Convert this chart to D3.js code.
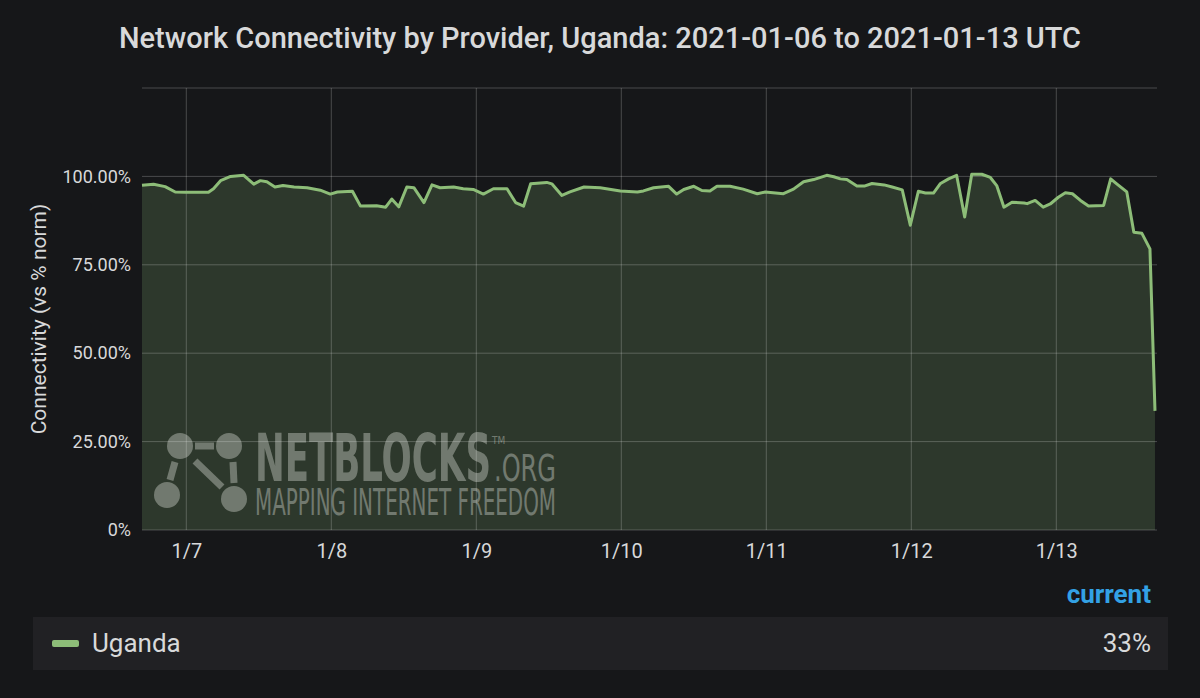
<!DOCTYPE html>
<html>
<head>
<meta charset="utf-8">
<script src="https://cdn.jsdelivr.net/npm/d3@7"></script>
<style>
  html, body { margin: 0; padding: 0; background: #161719; }
  svg { display: block; font-family: Roboto, "Noto Sans", sans-serif; }
</style>
</head>
<body>
<div id="chart"></div>
<script>
const W = 1200, H = 698;
const MARGIN = { LEFT: 142, RIGHT: 43, TOP: 88, BOTTOM: 168 };

const title = "Network Connectivity by Provider, Uganda: 2021-01-06 to 2021-01-13 UTC";
const seriesName = "Uganda";
const currentLabel = "33%";
const domainStart = "2021-01-06T16:40:00Z";
const domainEnd = "2021-01-13T16:40:00Z";
const yTicks = [0, 25, 50, 75, 100];
const yTickLabels = ["0%", "25.00%", "50.00%", "75.00%", "100.00%"];
const yGridTicks = [0, 25, 50, 75, 100, 125];

// readings (UTC)
const times = [
  "2021-01-06T16:40", "2021-01-06T18:35", "2021-01-06T20:30", "2021-01-06T22:10", "2021-01-06T23:50",
  "2021-01-07T03:40", "2021-01-07T04:30", "2021-01-07T05:40", "2021-01-07T07:20", "2021-01-07T09:30",
  "2021-01-07T11:10", "2021-01-07T12:15", "2021-01-07T13:20", "2021-01-07T14:40", "2021-01-07T16:00",
  "2021-01-07T17:50", "2021-01-07T20:00", "2021-01-07T22:10", "2021-01-07T23:50", "2021-01-08T01:00",
  "2021-01-08T03:30", "2021-01-08T04:50", "2021-01-08T07:30", "2021-01-08T09:00", "2021-01-08T10:00",
  "2021-01-08T11:10", "2021-01-08T12:30", "2021-01-08T13:40", "2021-01-08T15:20", "2021-01-08T16:40",
  "2021-01-08T18:00", "2021-01-08T20:15", "2021-01-08T21:50", "2021-01-08T23:30", "2021-01-09T01:10",
  "2021-01-09T02:50", "2021-01-09T05:05", "2021-01-09T06:30", "2021-01-09T07:50", "2021-01-09T09:00",
  "2021-01-09T11:40", "2021-01-09T12:30", "2021-01-09T14:10", "2021-01-09T15:30", "2021-01-09T17:50",
  "2021-01-09T20:30", "2021-01-09T23:50", "2021-01-10T02:40", "2021-01-10T03:40", "2021-01-10T05:20",
  "2021-01-10T07:50", "2021-01-10T09:10", "2021-01-10T10:20", "2021-01-10T12:00", "2021-01-10T13:20",
  "2021-01-10T14:40", "2021-01-10T15:50", "2021-01-10T18:00", "2021-01-10T20:10", "2021-01-10T22:30",
  "2021-01-10T23:50", "2021-01-11T02:50", "2021-01-11T04:30", "2021-01-11T06:10", "2021-01-11T07:50",
  "2021-01-11T10:00", "2021-01-11T11:10", "2021-01-11T12:15", "2021-01-11T13:20", "2021-01-11T15:00",
  "2021-01-11T16:20", "2021-01-11T17:30", "2021-01-11T19:30", "2021-01-11T20:50", "2021-01-11T22:30",
  "2021-01-11T23:50", "2021-01-12T01:10", "2021-01-12T02:20", "2021-01-12T03:40", "2021-01-12T04:50",
  "2021-01-12T06:10", "2021-01-12T07:30", "2021-01-12T08:50", "2021-01-12T10:00", "2021-01-12T11:40",
  "2021-01-12T13:05", "2021-01-12T14:10", "2021-01-12T15:20", "2021-01-12T16:40", "2021-01-12T18:40",
  "2021-01-12T19:10", "2021-01-12T20:30", "2021-01-12T21:50", "2021-01-12T23:00", "2021-01-13T00:20",
  "2021-01-13T01:30", "2021-01-13T02:40", "2021-01-13T04:00", "2021-01-13T05:20", "2021-01-13T07:50",
  "2021-01-13T09:00", "2021-01-13T10:00", "2021-01-13T11:40", "2021-01-13T12:50", "2021-01-13T14:10",
  "2021-01-13T15:30", "2021-01-13T16:20"
];
const values = [
  97.5, 97.8, 97.1, 95.6, 95.5,
  95.5, 96.5, 98.8, 100.0, 100.3,
  97.8, 98.8, 98.5, 97.0, 97.4,
  97.0, 96.8, 96.1, 95.0, 95.6,
  95.8, 91.6, 91.7, 91.3, 93.6,
  91.4, 97.0, 96.8, 92.6, 97.6,
  96.8, 97.0, 96.5, 96.3, 95.0,
  96.5, 96.5, 92.6, 91.6, 97.9,
  98.3, 97.9, 94.6, 95.6, 97.0,
  96.8, 95.9, 95.6, 95.9, 96.8,
  97.2, 95.0, 96.3, 97.2, 96.0,
  95.9, 97.2, 97.2, 96.4, 95.1,
  95.6, 95.1, 96.4, 98.5, 99.1,
  100.3, 99.9, 99.3, 99.1, 97.3,
  97.3, 98.0, 97.6, 97.0, 96.2,
  86.2, 95.8, 95.3, 95.3, 98.0,
  99.3, 100.3, 88.5, 100.6, 100.6,
  99.7, 97.3, 91.3, 92.7, 92.5,
  92.3, 93.2, 91.3, 92.2, 94.1,
  95.4, 95.1, 93.2, 91.6, 91.8,
  99.3, 97.9, 95.6, 84.2, 83.9,
  79.5, 33.7
];

const LINE_COLOR = "#8dbd78";
const TEXT_COLOR = "#d8d9da";
const NARROW = "'Liberation Sans Narrow', 'DejaVu Sans Condensed', sans-serif";

const data = times.map((t, i) => ({ t: new Date(t + ":00Z"), v: values[i] }));

const svg = d3.select("#chart").append("svg")
    .attr("width", W)
    .attr("height", H);

svg.append("rect").attr("width", W).attr("height", H).attr("fill", "#161719");

const x = d3.scaleUtc()
    .domain([new Date(domainStart), new Date(domainEnd)])
    .range([MARGIN.LEFT, W - MARGIN.RIGHT]);

const y = d3.scaleLinear()
    .domain([0, 125])
    .range([H - MARGIN.BOTTOM, MARGIN.TOP]);

// title
svg.append("text")
    .attr("x", 600)
    .attr("y", 48)
    .attr("text-anchor", "middle")
    .attr("font-size", "29px")
    .attr("font-weight", 500)
    .attr("fill", TEXT_COLOR)
    .text(title);

// area + watermark sit under the grid
const area = d3.area()
    .x(d => x(d.t))
    .y0(y(0))
    .y1(d => y(d.v));

svg.append("path")
    .datum(data)
    .attr("d", area)
    .attr("fill", LINE_COLOR)
    .attr("fill-opacity", 0.2);

// watermark
const wm = svg.append("g").attr("opacity", 0.42).attr("fill", "#d0d4cc").attr("stroke", "#d0d4cc");
const nodes = [[180, 446], [229, 446], [167, 495], [234, 499]];
wm.append("line").attr("x1", 195).attr("y1", 446).attr("x2", 214).attr("y2", 446).attr("stroke-width", 7);
wm.append("line").attr("x1", 175).attr("y1", 462).attr("x2", 170).attr("y2", 480).attr("stroke-width", 7);
wm.append("line").attr("x1", 195).attr("y1", 461).attr("x2", 222).attr("y2", 487).attr("stroke-width", 7);
wm.append("line").attr("x1", 233).attr("y1", 462).attr("x2", 234).attr("y2", 483).attr("stroke-width", 7);
wm.selectAll("circle").data(nodes).enter().append("circle")
    .attr("cx", d => d[0]).attr("cy", d => d[1]).attr("r", 13).attr("stroke", "none");

const wmText = wm.append("text")
    .attr("stroke", "none")
    .attr("font-family", NARROW);
wmText.append("tspan")
    .attr("x", 255).attr("y", 481)
    .attr("font-weight", "bold")
    .attr("font-size", "66px")
    .attr("textLength", 236).attr("lengthAdjust", "spacingAndGlyphs")
    .text("NETBLOCKS");
wmText.append("tspan")
    .attr("x", 492).attr("y", 444)
    .attr("font-size", "10px")
    .text("TM");
wmText.append("tspan")
    .attr("x", 494).attr("y", 481)
    .attr("font-size", "37px")
    .attr("textLength", 62).attr("lengthAdjust", "spacingAndGlyphs")
    .text(".ORG");
wmText.append("tspan")
    .attr("x", 255).attr("y", 515)
    .attr("font-size", "37px")
    .attr("textLength", 301).attr("lengthAdjust", "spacingAndGlyphs")
    .text("MAPPING INTERNET FREEDOM");

// grid
const xTicks = x.ticks(d3.utcDay.every(1));
svg.append("g")
    .selectAll("line")
    .data(xTicks)
    .enter().append("line")
    .attr("x1", d => x(d)).attr("x2", d => x(d))
    .attr("y1", y(125)).attr("y2", y(0))
    .attr("stroke", "#ffffff")
    .attr("stroke-opacity", 0.22);

svg.append("g")
    .selectAll("line")
    .data(yGridTicks)
    .enter().append("line")
    .attr("x1", MARGIN.LEFT).attr("x2", W - MARGIN.RIGHT)
    .attr("y1", d => y(d)).attr("y2", d => y(d))
    .attr("stroke", "#ffffff")
    .attr("stroke-opacity", 0.22);

// line
const line = d3.line()
    .x(d => x(d.t))
    .y(d => y(d.v));

svg.append("path")
    .datum(data)
    .attr("d", line)
    .attr("fill", "none")
    .attr("stroke", LINE_COLOR)
    .attr("stroke-width", 3)
    .attr("stroke-linejoin", "round");

// axes
const xAxis = d3.axisBottom(x)
    .tickValues(xTicks)
    .tickFormat(d3.utcFormat("%-m/%-d"))
    .tickSize(0)
    .tickPadding(14);

svg.append("g")
    .attr("transform", `translate(0, ${y(0)})`)
    .call(xAxis)
    .call(g => g.select(".domain").remove())
    .selectAll("text")
    .attr("font-size", "20px")
    .attr("font-family", "Roboto, sans-serif")
    .attr("fill", TEXT_COLOR);

const yAxis = d3.axisLeft(y)
    .tickValues(yTicks)
    .tickFormat((d, i) => yTickLabels[i])
    .tickSize(0)
    .tickPadding(11);

svg.append("g")
    .attr("transform", `translate(${MARGIN.LEFT}, 0)`)
    .call(yAxis)
    .call(g => g.select(".domain").remove())
    .selectAll("text")
    .attr("font-size", "18px")
    .attr("font-family", "Roboto, sans-serif")
    .attr("fill", TEXT_COLOR);

svg.append("text")
    .attr("transform", "translate(46, 319) rotate(-90)")
    .attr("text-anchor", "middle")
    .attr("font-size", "21px")
    .attr("fill", TEXT_COLOR)
    .text("Connectivity (vs % norm)");

// legend
svg.append("text")
    .attr("x", 1151)
    .attr("y", 603)
    .attr("text-anchor", "end")
    .attr("font-size", "26px")
    .attr("font-weight", "bold")
    .attr("fill", "#33a2e5")
    .text("current");

svg.append("rect")
    .attr("x", 33).attr("y", 617)
    .attr("width", 1135).attr("height", 53)
    .attr("fill", "#212124");

svg.append("rect")
    .attr("x", 52).attr("y", 640)
    .attr("width", 27).attr("height", 7)
    .attr("rx", 2)
    .attr("fill", LINE_COLOR);

svg.append("text")
    .attr("x", 92).attr("y", 652)
    .attr("font-size", "26px")
    .attr("fill", TEXT_COLOR)
    .text(seriesName);

svg.append("text")
    .attr("x", 1151).attr("y", 652)
    .attr("text-anchor", "end")
    .attr("font-size", "26px")
    .attr("fill", TEXT_COLOR)
    .text(currentLabel);
</script>
</body>
</html>
